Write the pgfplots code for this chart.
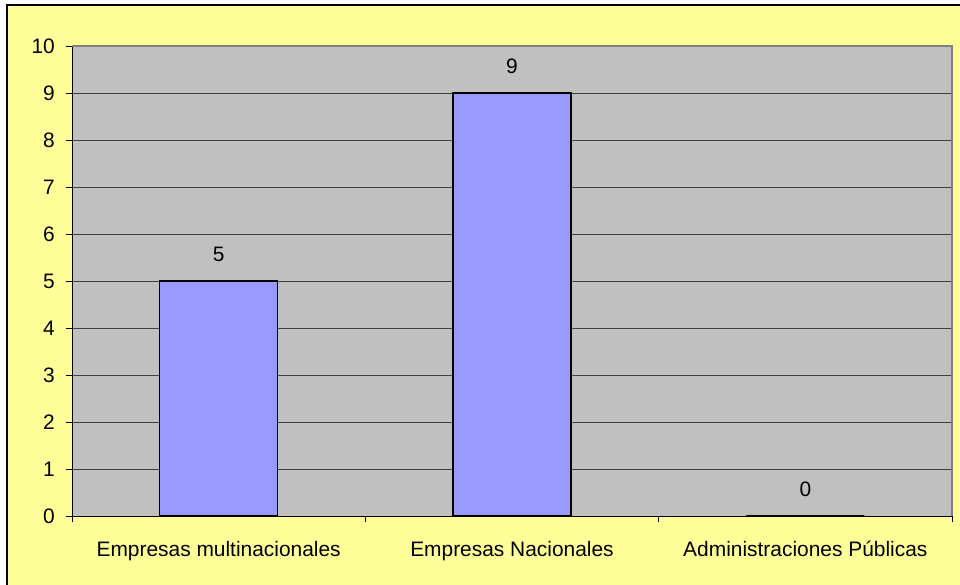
\documentclass[border=0pt]{standalone}
\usepackage{pgfplots}
\pgfplotsset{compat=1.18}
\usepackage{fontspec}
\setmainfont{Liberation Sans}
\definecolor{bgyellow}{HTML}{FFFF99}
\definecolor{plotgray}{HTML}{C0C0C0}
\definecolor{barblue}{HTML}{9999FF}
\definecolor{gridc}{HTML}{404040}
\definecolor{framegray}{HTML}{808080}
\begin{document}
\begin{tikzpicture}
\useasboundingbox (0bp,0bp) rectangle (960bp,585bp);
\fill[white] (0bp,0bp) rectangle (960bp,585bp);
\fill[bgyellow] (7bp,-20bp) rectangle (980bp,580bp);
\draw[black, line width=1.5bp] (7bp,-20bp) -- (7bp,580bp) -- (980bp,580bp);
\begin{axis}[
  at={(72bp,69bp)}, anchor=south west,
  scale only axis, width=880bp, height=470bp,
  xmin=0.5, xmax=3.5, ymin=0, ymax=10,
  ytick={0,1,...,10},
  xtick={0.5,1.5,2.5,3.5},
  x tick label as interval,
  xticklabels={Empresas multinacionales,Empresas Nacionales,Administraciones Públicas},
  axis background/.style={fill=plotgray},
  axis x line*=bottom, axis y line*=left,
  axis line style={black, line width=0.8bp},
  ymajorgrids, major grid style={gridc, line width=0.8bp},
  tick align=outside, major tick length=6bp,
  tick style={black, line width=0.8bp},
  /pgf/number format/assume math mode=true,
  tick label style={font=\fontsize{21}{25}\selectfont},
  yticklabel style={inner sep=0pt, anchor=east, xshift=-11bp},
  xticklabel style={inner sep=0pt, anchor=base, yshift=-35bp},
  ybar, bar width=118bp,
  nodes near coords,
  nodes near coords style={font=\fontsize{21}{25}\selectfont, anchor=base, inner sep=0pt, yshift=19bp},
  clip=false,
]
\addplot[fill=barblue, draw=black, line width=1.5bp] coordinates {(1,5) (2,9) (3,0)};
\draw[framegray, line width=1.2bp] (rel axis cs:0,1) -- (rel axis cs:1,1) -- (rel axis cs:1,0);
\end{axis}
\end{tikzpicture}
\end{document}
